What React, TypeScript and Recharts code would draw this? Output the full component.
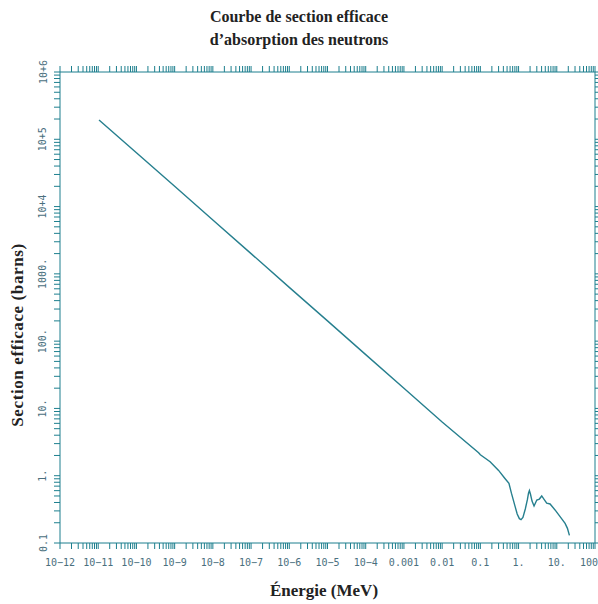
import React from "react";
import { LineChart, Line, XAxis, YAxis } from "recharts";

const energy = [1.05e-11, 1e-10, 1e-9, 1e-8, 1e-7, 1e-6, 1e-5, 1e-4, 1e-3, 1e-2, 0.09, 0.1, 0.18, 0.3, 0.44, 0.56, 0.65, 0.81, 0.92, 1.05, 1.16, 1.3, 1.5, 1.7, 1.82, 1.92, 2.05, 2.25, 2.54, 2.8, 3.0, 3.5, 4.04, 4.6, 5.45, 6.67, 9.0, 12.2, 16.5, 19.0, 21.4];
const sigma = [1.93e5, 6.3e4, 2.0e4, 6.3e3, 2.0e3, 630, 200, 63, 20, 6.3, 2.2, 2.05, 1.61, 1.2, 0.91, 0.77, 0.55, 0.35, 0.27, 0.23, 0.222, 0.24, 0.32, 0.44, 0.55, 0.6, 0.53, 0.42, 0.355, 0.4, 0.435, 0.45, 0.5, 0.45, 0.39, 0.38, 0.31, 0.246, 0.196, 0.165, 0.13];

const xMajor = [1e-12, 1e-11, 1e-10, 1e-9, 1e-8, 1e-7, 1e-6, 1e-5, 1e-4, 1e-3, 1e-2, 0.1, 1, 10, 100];
const xLabels = ["10\u221212", "10\u221211", "10\u221210", "10\u22129", "10\u22128", "10\u22127", "10\u22126", "10\u22125", "10\u22124", "0.001", "0.01", "0.1", "1.", "10.", "100"];
const yMajor = [0.1, 1, 10, 100, 1000, 1e4, 1e5, 1e6];
const yLabels = ["0.1", "1.", "10.", "100.", "1000.", "10+4", "10+5", "10+6"];
const minorMult = [2, 3, 4, 5, 6, 7, 8, 9];

const xTicks = [...xMajor, ...xMajor.slice(0, -1).flatMap((d) => minorMult.map((m) => d * m))];
const yTicks = [...yMajor, ...yMajor.slice(0, -1).flatMap((d) => minorMult.map((m) => d * m))];

const data = energy.map((e, i) => ({ e, s: sigma[i] }));

const AXIS = "#1d7f8e";
const LABEL = "#4a6f7e";
const MONO = "'DejaVu Sans Mono', monospace";

const findIdx = (arr: number[], v: number) =>
  arr.findIndex((m) => Math.abs(Math.log10(m) - Math.log10(v)) < 1e-6);

const BottomTick = (props: any) => {
  const { x, y, payload } = props;
  const i = findIdx(xMajor, payload.value);
  if (i < 0) return <g />;
  const last = i === xMajor.length - 1;
  return (
    <text
      x={last ? 598 : x}
      y={y + 11}
      textAnchor={last ? "end" : "middle"}
      dominantBaseline="central"
      fontFamily={MONO}
      fontSize={10}
      fill={LABEL}
    >
      {xLabels[i]}
    </text>
  );
};

const LeftTick = (props: any) => {
  const { x, y, payload } = props;
  const i = findIdx(yMajor, payload.value);
  if (i < 0) return <g />;
  const cx = x - 9;
  return (
    <text
      x={cx}
      y={y}
      transform={`rotate(-90, ${cx}, ${y})`}
      textAnchor="middle"
      dominantBaseline="central"
      fontFamily={MONO}
      fontSize={10}
      fill={LABEL}
    >
      {yLabels[i]}
    </text>
  );
};

const Empty = () => <g />;

const serif = "'Liberation Serif', serif";

export default function App() {
  return (
    <div style={{ position: "absolute", left: 0, top: 0, width: 598, height: 604, background: "#fff" }}>
      <LineChart width={598} height={604} data={data} margin={{ top: 0, right: 0, bottom: 0, left: 0 }}>
        <XAxis
          xAxisId="b"
          dataKey="e"
          type="number"
          scale="log"
          domain={[1e-12, 100]}
          ticks={xTicks}
          interval={0}
          allowDataOverflow
          height={61}
          tickSize={6}
          stroke={AXIS}
          tickLine={{ stroke: AXIS }}
          tick={<BottomTick />}
        />
        <XAxis
          xAxisId="t"
          orientation="top"
          dataKey="e"
          type="number"
          scale="log"
          domain={[1e-12, 100]}
          ticks={xTicks}
          interval={0}
          allowDataOverflow
          height={72}
          tickSize={6}
          stroke={AXIS}
          tickLine={{ stroke: AXIS }}
          tick={<Empty />}
        />
        <YAxis
          yAxisId="l"
          type="number"
          scale="log"
          domain={[0.1, 1e6]}
          ticks={yTicks}
          interval={0}
          allowDataOverflow
          width={60}
          tickSize={6}
          stroke={AXIS}
          tickLine={{ stroke: AXIS }}
          tick={<LeftTick />}
        />
        <YAxis
          yAxisId="r"
          orientation="right"
          type="number"
          scale="log"
          domain={[0.1, 1e6]}
          ticks={yTicks}
          interval={0}
          allowDataOverflow
          width={3}
          tickSize={6}
          stroke={AXIS}
          tickLine={{ stroke: AXIS }}
          tick={<Empty />}
        />
        <Line
          xAxisId="b"
          yAxisId="l"
          dataKey="s"
          type="linear"
          stroke="#267f8e"
          strokeWidth={1.4}
          dot={false}
          isAnimationActive={false}
        />
      </LineChart>
      <div
        style={{
          position: "absolute",
          left: 0,
          top: 5,
          width: 598,
          textAlign: "center",
          fontFamily: serif,
          fontWeight: "bold",
          fontSize: 16,
          lineHeight: "23px",
          color: "#222",
        }}
      >
        Courbe de section efficace
        <br />
        d’absorption des neutrons
      </div>
      <div
        style={{
          position: "absolute",
          left: 224,
          top: 580,
          width: 200,
          textAlign: "center",
          fontFamily: serif,
          fontWeight: "bold",
          fontSize: 17,
          lineHeight: "22px",
          color: "#222",
        }}
      >
        Énergie (MeV)
      </div>
      <div
        style={{
          position: "absolute",
          left: 18 - 120,
          top: 335 - 11,
          width: 240,
          height: 22,
          lineHeight: "22px",
          textAlign: "center",
          transform: "rotate(-90deg)",
          fontFamily: serif,
          fontWeight: "bold",
          fontSize: 17,
          letterSpacing: 0.6,
          color: "#222",
        }}
      >
        Section efficace (barns)
      </div>
    </div>
  );
}
